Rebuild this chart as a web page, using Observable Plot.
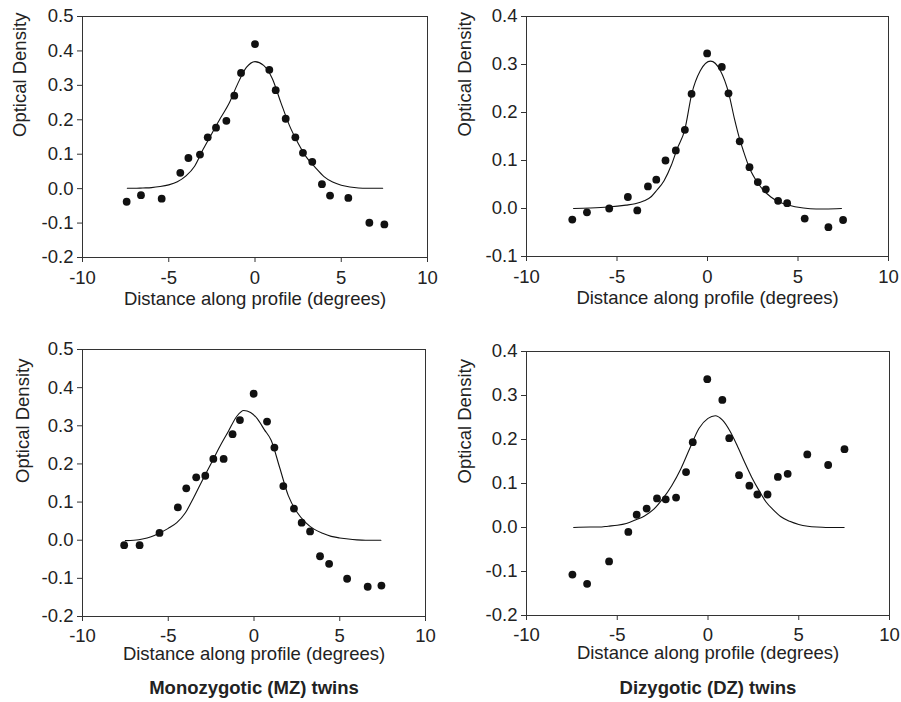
<!DOCTYPE html>
<html>
<head>
<meta charset="utf-8">
<script src="https://cdn.jsdelivr.net/npm/d3@7"></script>
<script src="https://cdn.jsdelivr.net/npm/@observablehq/plot@0.6"></script>
<style>
  html, body { margin: 0; padding: 0; background: #fff; }
  #fig { position: relative; width: 901px; height: 702px; background: #fff; font-family: "Liberation Sans", Arial, sans-serif; color: #222; }
  #fig svg { position: absolute; }
  .cap { position: absolute; font-weight: bold; font-size: 18.5px; text-align: center; width: 340px; line-height: 22px; }
</style>
</head>
<body>
<div id="fig"></div>
<script>
// ---------- Data ----------
const xTicks = [-10, -5, 0, 5, 10];
const yTicksA = [-0.2, -0.1, 0, 0.1, 0.2, 0.3, 0.4, 0.5];
const yTicksB = [-0.1, 0, 0.1, 0.2, 0.3, 0.4];
const yTicksC = [-0.2, -0.1, 0, 0.1, 0.2, 0.3, 0.4, 0.5];
const yTicksD = [-0.2, -0.1, 0, 0.1, 0.2, 0.3, 0.4];

const xLabel = "Distance along profile (degrees)";
const yLabel = "Optical Density";
const captions = ["Monozygotic (MZ) twins", "Dizygotic (DZ) twins"];

// Panel A: top-left (MZ)
const ptsXA = [-7.44,-6.61,-5.41,-4.33,-3.86,-3.19,-2.74,-2.26,-1.66,-1.20,-0.81,0.00,0.83,1.20,1.78,2.34,2.78,3.32,3.88,4.35,5.41,6.63,7.50];
const ptsYA = [-0.038,-0.019,-0.029,0.046,0.089,0.099,0.149,0.177,0.197,0.270,0.336,0.420,0.345,0.286,0.203,0.149,0.104,0.078,0.013,-0.020,-0.027,-0.099,-0.104];
const fitXA = [-7.4,-7,-6.5,-6,-5.5,-5,-4.5,-4,-3.5,-3,-2.5,-2,-1.5,-1,-0.5,0,0.5,1,1.5,2,2.5,3,3.5,4,4.5,5,5.5,6,6.5,7,7.4];
const fitYA = [0.001,0.001,0.002,0.003,0.006,0.011,0.020,0.037,0.065,0.115,0.160,0.205,0.248,0.305,0.352,0.369,0.358,0.320,0.250,0.183,0.132,0.090,0.061,0.035,0.019,0.010,0.005,0.002,0.001,0.001,0.001];

// Panel B: top-right (DZ)
const ptsXB = [-7.47,-6.66,-5.43,-4.40,-3.88,-3.29,-2.83,-2.32,-1.75,-1.25,-0.88,-0.02,0.79,1.16,1.78,2.32,2.78,3.22,3.90,4.40,5.37,6.68,7.49];
const ptsYB = [-0.023,-0.008,0.000,0.024,-0.004,0.046,0.060,0.100,0.121,0.164,0.239,0.323,0.295,0.240,0.140,0.086,0.055,0.040,0.016,0.011,-0.021,-0.039,-0.024];
const fitXB = [-7.4,-6.5,-5.5,-4.5,-4,-3.5,-3.1,-2.8,-2.4,-2,-1.7,-1.25,-0.87,-0.4,0.17,0.7,1.18,1.5,1.75,2,2.3,2.8,3.5,4,4.4,5.3,6,6.5,7.4];
const fitYB = [0,0.001,0.003,0.007,0.010,0.016,0.025,0.038,0.058,0.090,0.122,0.165,0.239,0.287,0.307,0.288,0.239,0.185,0.148,0.118,0.086,0.052,0.024,0.013,0.008,0.001,-0.001,-0.001,0];

// Panel C: bottom-left (MZ)
const ptsXC = [-7.57,-6.67,-5.51,-4.44,-3.95,-3.37,-2.84,-2.37,-1.77,-1.25,-0.82,-0.02,0.76,1.19,1.71,2.33,2.78,3.27,3.85,4.38,5.43,6.63,7.43];
const ptsYC = [-0.013,-0.013,0.019,0.086,0.136,0.165,0.169,0.213,0.213,0.278,0.315,0.384,0.311,0.243,0.142,0.083,0.046,0.023,-0.042,-0.062,-0.101,-0.122,-0.119];
const fitXC = [-7.5,-7,-6.5,-6,-5.5,-5,-4.5,-4,-3.5,-3,-2.5,-2,-1.5,-1,-0.6,-0.2,0.2,0.6,1,1.5,2,2.5,3,3.5,4,4.5,5,5.5,6,6.5,7,7.4];
const fitYC = [-0.001,0,0.003,0.009,0.019,0.031,0.046,0.072,0.113,0.158,0.201,0.245,0.285,0.325,0.340,0.335,0.318,0.290,0.262,0.190,0.117,0.074,0.047,0.029,0.018,0.010,0.006,0.003,0.001,0,0,0];

// Panel D: bottom-right (DZ)
const ptsXD = [-7.47,-6.66,-5.45,-4.39,-3.93,-3.38,-2.81,-2.33,-1.76,-1.21,-0.84,-0.04,0.79,1.17,1.71,2.28,2.72,3.28,3.85,4.39,5.47,6.62,7.52];
const ptsYD = [-0.107,-0.128,-0.077,-0.010,0.029,0.043,0.066,0.064,0.068,0.126,0.194,0.337,0.290,0.203,0.119,0.095,0.075,0.075,0.115,0.122,0.166,0.142,0.178];
const fitXD = [-7.4,-6.5,-6,-5.5,-5,-4.5,-4,-3.5,-3,-2.5,-2,-1.5,-1,-0.5,0,0.4,0.8,1.2,1.6,2,2.4,2.8,3.2,3.6,4,4.5,5,5.5,6,6.5,7,7.5];
const fitYD = [0,0.001,0.001,0.003,0.005,0.009,0.017,0.026,0.041,0.065,0.095,0.133,0.180,0.225,0.248,0.254,0.244,0.220,0.187,0.150,0.115,0.085,0.058,0.040,0.025,0.014,0.007,0.003,0.001,0,0,0];

// ---------- Drawing ----------
const fig = document.getElementById("fig");

function panel(cfg) {
  const pts = cfg.px.map((x, i) => ({x, y: cfg.py[i]}));
  const fit = cfg.fx.map((x, i) => ({x, y: cfg.fy[i]}));
  const ink = "#222";
  const svg = Plot.plot({
    width: cfg.w, height: cfg.h,
    marginLeft: cfg.ml, marginRight: cfg.mr, marginTop: cfg.mt, marginBottom: cfg.mb,
    style: {fontFamily: '"Liberation Sans", Arial, sans-serif', fontSize: "18.5px", color: ink, background: "white", overflow: "visible"},
    x: {domain: [-10, 10]},
    y: {domain: cfg.yDomain},
    marks: [
      Plot.axisX({ticks: xTicks, tickSize: 5, tickPadding: cfg.xpad, tickFormat: d => String(d), label: null, fontSize: 18.5, stroke: "#333", fill: ink}),
      Plot.axisY({ticks: cfg.yTicks, tickSize: 5, tickPadding: 4, tickFormat: d => d.toFixed(1), label: null, fontSize: 18.5, stroke: "#333", fill: ink}),
      Plot.frame({stroke: "#333", strokeWidth: 1}),
      Plot.line(fit, {x: "x", y: "y", stroke: "#111", strokeWidth: 1.1, curve: "monotone-x"}),
      Plot.dot(pts, {x: "x", y: "y", r: 3.9, fill: "#111", stroke: "none"}),
      Plot.text([yLabel], {frameAnchor: "left", rotate: -90, dx: cfg.ydx, fontSize: 18.5, fill: ink}),
      Plot.text([xLabel], {frameAnchor: "bottom", dy: cfg.xdy, fontSize: 18.5, fill: ink})
    ]
  });
  svg.style.left = cfg.left + "px";
  svg.style.top = cfg.top + "px";
  fig.appendChild(svg);
}

panel({left: 0, top: 0, w: 450, h: 330, ml: 82, mr: 23, mt: 16, mb: 73, xpad: 8,
  yDomain: [-0.2, 0.5], yTicks: yTicksA, px: ptsXA, py: ptsYA, fx: fitXA, fy: fitYA, ydx: -62, xdy: 47});
panel({left: 450, top: 0, w: 451, h: 330, ml: 76, mr: 13, mt: 16, mb: 74, xpad: 8,
  yDomain: [-0.1, 0.4], yTicks: yTicksB, px: ptsXB, py: ptsYB, fx: fitXB, fy: fitYB, ydx: -61, xdy: 47});
panel({left: 0, top: 330, w: 450, h: 340, ml: 82, mr: 25, mt: 19, mb: 54, xpad: 7,
  yDomain: [-0.2, 0.5], yTicks: yTicksC, px: ptsXC, py: ptsYC, fx: fitXC, fy: fitYC, ydx: -59, xdy: 43.5});
panel({left: 450, top: 330, w: 451, h: 340, ml: 76, mr: 12, mt: 21, mb: 55, xpad: 7,
  yDomain: [-0.2, 0.4], yTicks: yTicksD, px: ptsXD, py: ptsYD, fx: fitXD, fy: fitYD, ydx: -61, xdy: 43.5});

const capPos = [{cx: 254, cy: 688}, {cx: 708, cy: 688}];
captions.forEach((t, i) => {
  const d = document.createElement("div");
  d.className = "cap";
  d.textContent = t;
  d.style.left = (capPos[i].cx - 170) + "px";
  d.style.top = (capPos[i].cy - 11) + "px";
  fig.appendChild(d);
});
</script>
</body>
</html>
